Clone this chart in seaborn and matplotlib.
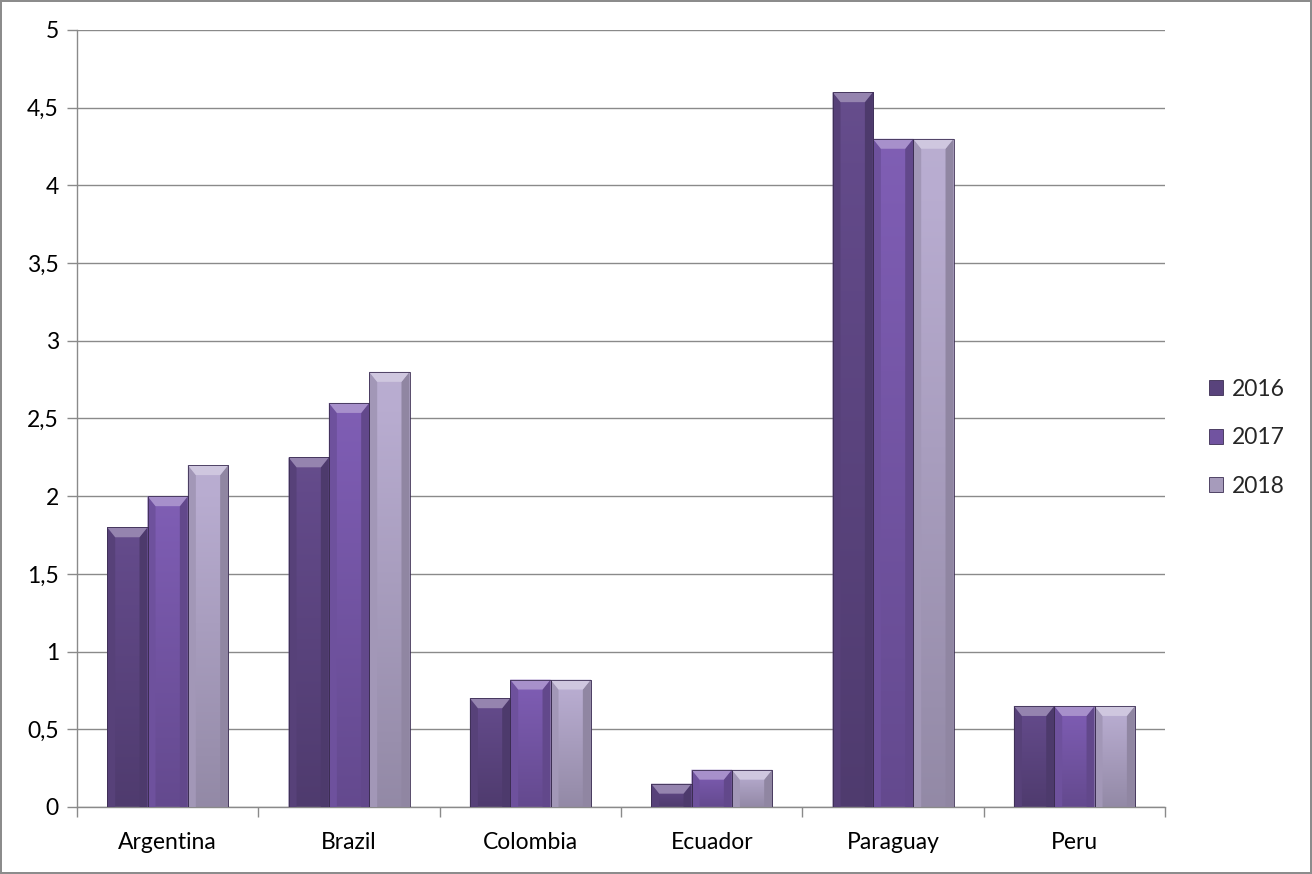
import numpy as np
import pandas as pd
import matplotlib
matplotlib.use("Agg")
import matplotlib.pyplot as plt
import matplotlib.colors as mcolors
from matplotlib.patches import Polygon, Rectangle
from matplotlib.ticker import FuncFormatter, MultipleLocator
import seaborn as sns

countries = ["Argentina", "Brazil", "Colombia", "Ecuador", "Paraguay", "Peru"]
years = ["2016", "2017", "2018"]
values_2016 = [1.8, 2.25, 0.7, 0.15, 4.6, 0.65]
values_2017 = [2.0, 2.6, 0.82, 0.24, 4.3, 0.65]
values_2018 = [2.2, 2.8, 0.82, 0.24, 4.3, 0.65]
year_colors = ["#634a8a", "#7d5cb2", "#b8acd0"]

df = pd.DataFrame({
    "country": countries * 3,
    "year": [y for y in years for _ in countries],
    "value": values_2016 + values_2017 + values_2018,
})

sns.set_theme(style="white")
plt.rcParams["font.family"] = ["Lato", "DejaVu Sans"]
FS = 16.5

fig = plt.figure(figsize=(13.12, 8.74), dpi=100)
fig.patch.set_facecolor("white")
fig.patch.set_edgecolor("#8c8c8c")
fig.patch.set_linewidth(1.5)
ax = fig.add_axes([0.0587, 0.0767, 0.8293, 0.889])

palette = dict(zip(years, year_colors))
sns.barplot(data=df, x="country", y="value", hue="year", palette=palette,
            width=0.667, gap=0, saturation=1, errorbar=None, ax=ax,
            edgecolor="#3b2d52", linewidth=0.6, zorder=3)

ax.set_xlim(-0.5, len(countries) - 0.5)
ax.set_ylim(0, 5)
fig.canvas.draw()

# pixel -> data scale for bevel geometry
bbox = ax.get_window_extent()
dx_px = (len(countries)) / bbox.width
dy_px = 5.0 / bbox.height


def shade(color, f):
    r, g, b = mcolors.to_rgb(color)
    if f >= 1:
        return (r + (1 - r) * (f - 1), g + (1 - g) * (f - 1), b + (1 - b) * (f - 1))
    return (r * f, g * f, b * f)


bars = [p for p in ax.patches if isinstance(p, Rectangle) and p.get_height() > 0]
for p in bars:
    x0, w, h = p.get_x(), p.get_width(), p.get_height()
    base = p.get_facecolor()
    p.set_facecolor("none")
    # body with vertical shading (lighter at top, darker at bottom)
    n = 64
    t = np.linspace(0, 1, n)
    cols = np.array([shade(base, 0.80 + 0.22 * tt) for tt in t])
    img = cols[:, None, :].repeat(2, axis=1)
    im = ax.imshow(img, extent=(x0, x0 + w, 0, h), origin="lower",
                   aspect="auto", zorder=2.5, interpolation="bilinear")
    im.set_clip_path(p)
    bx = 8 * dx_px
    by = min(10 * dy_px, h / 2)
    top = h
    # top bevel
    ax.add_patch(Polygon([(x0, top), (x0 + w, top), (x0 + w - bx, top - by), (x0 + bx, top - by)],
                         closed=True, facecolor=shade(base, 1.32), edgecolor="none", zorder=2.7))
    # side bevels
    ax.add_patch(Polygon([(x0, 0), (x0, top), (x0 + bx, top - by), (x0 + bx, 0)],
                         closed=True, facecolor=shade(base, 0.88), edgecolor="none", zorder=2.6))
    ax.add_patch(Polygon([(x0 + w, 0), (x0 + w, top), (x0 + w - bx, top - by), (x0 + w - bx, 0)],
                         closed=True, facecolor=shade(base, 0.78), edgecolor="none", zorder=2.6))

ax.set_xlabel("")
ax.set_ylabel("")
ax.yaxis.set_major_locator(MultipleLocator(0.5))
ax.yaxis.set_major_formatter(FuncFormatter(lambda v, _: f"{v:g}".replace(".", ",")))
ax.grid(axis="y", color="#8a8a8a", linewidth=1.0, zorder=0)
ax.set_axisbelow(True)
for s in ["top", "right"]:
    ax.spines[s].set_visible(False)
for s in ["left", "bottom"]:
    ax.spines[s].set_color("#8a8a8a")
    ax.spines[s].set_linewidth(1.0)

ax.tick_params(axis="y", which="major", left=True, length=7, width=1.0, color="#8a8a8a",
               labelsize=FS, labelcolor="black", pad=6)
ax.set_xticks(np.arange(len(countries)))
ax.set_xticklabels(countries)
ax.tick_params(axis="x", which="major", bottom=False, labelsize=FS, labelcolor="black", pad=12)
ax.set_xticks(np.arange(-0.5, len(countries)), minor=True)
ax.tick_params(axis="x", which="minor", bottom=True, length=7, width=1.0, color="#8a8a8a")

legend_handles = [Rectangle((0, 0), 1, 1, facecolor=shade(c, 0.9), edgecolor="#3b2d52", linewidth=0.6)
                  for c in year_colors]
ax.legend(legend_handles, years, loc="center left", bbox_to_anchor=(1.021, 0.475),
          frameon=False, fontsize=FS, handlelength=0.65, handleheight=0.65,
          handletextpad=0.35, labelspacing=1.2)

fig.savefig("out.png", dpi=100, facecolor=fig.get_facecolor(), edgecolor=fig.get_edgecolor())
